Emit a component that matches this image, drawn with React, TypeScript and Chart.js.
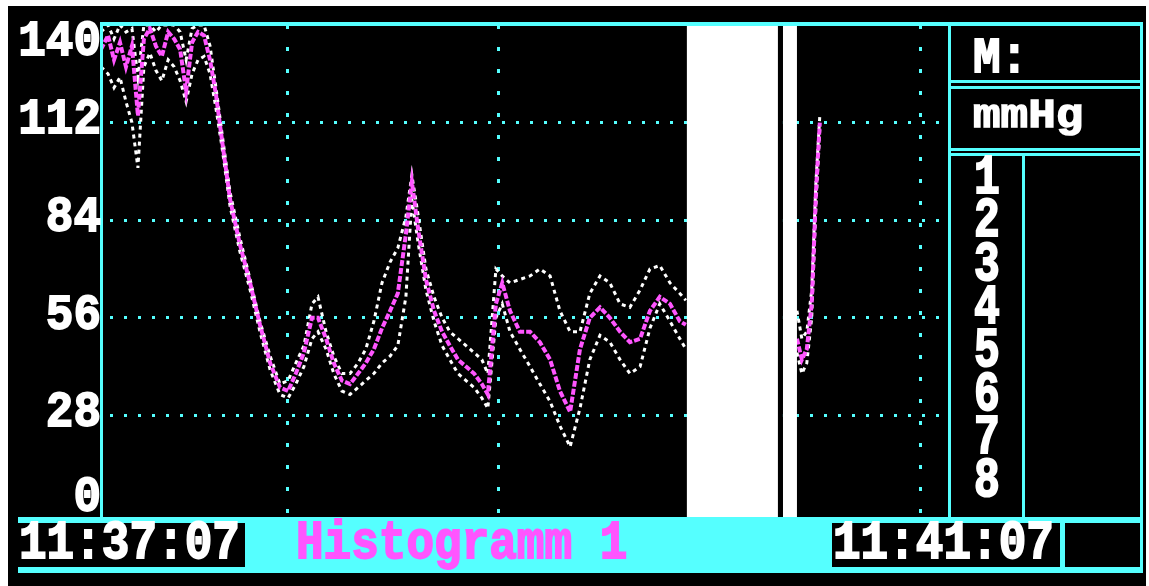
import React, { useEffect, useRef } from 'react';
import { Chart, registerables } from 'chart.js';

Chart.register(...registerables);

const W = 1149;
const H = 586;
const CYAN = '#55ffff';
const MAGENTA = '#ff55ff';
const WHITE = '#ffffff';
const FONT = '"Liberation Mono", "DejaVu Sans Mono", monospace';

// time in seconds after 11:37:07
const timeSec = [
  0, 2.0, 3.7, 5.4, 7.1, 8.8, 10.5, 12.2, 13.9, 15.6,
  17.3, 19.1, 20.8, 22.5, 24.2, 25.9, 27.6, 29.3, 31.0, 32.7,
  34.4, 36.7, 39.5, 42.4, 45.2, 48.1, 50.9, 53.2, 55.4, 57.7,
  60.0, 61.7, 64.0, 66.2, 68.5, 70.8, 73.1, 75.3, 77.6, 79.9,
  82.2, 84.4, 86.7, 88.4, 90.1, 92.4, 94.7, 97.0, 99.2, 101.5,
  103.8, 106.1, 108.3, 110.0,
  112.3, 114.1, 116.3, 119.1, 122.0, 124.8, 127.7, 130.5, 133.4, 136.2,
  139.0, 141.9, 144.7, 147.6, 150.4, 153.3, 156.1, 158.9, 161.8, 164.6, 166.3,
  180,
  197.9, 199.3, 200.7, 202.1, 203.3, 204.4,
];

const meanVals = [
  133, 137, 130, 135, 128, 134, 114, 136, 139, 134,
  131, 138, 136, 133, 121, 135, 138, 137, 130, 120,
  107, 90, 77, 66, 54, 43, 36, 35, 40, 46,
  56, 56, 50, 43, 38, 37, 40, 43, 47, 53,
  58, 63, 80, 95, 82, 67, 58, 52, 48, 44,
  42, 40, 37, 34,
  60, 66, 58, 52, 52, 49, 44, 35, 29, 47,
  56, 59, 56, 52, 49, 50, 58, 62, 60, 55, 54,
  null,
  50, 44, 47, 60, 92, 112,
];

const upperVals = [
  138, 140, 136, 140, 138, 139, 125, 140, 140, 138,
  140, 140, 140, 138, 130, 139, 140, 140, 134, 122,
  109, 92, 79, 67, 55, 45, 37, 38, 43, 48,
  60, 62, 52, 45, 40, 40, 43, 47, 55, 66,
  72, 76, 85, 97, 86, 70, 62, 56, 52, 50,
  48, 46, 44, 40,
  70, 68, 66, 67, 68, 70, 68, 58, 52, 52,
  63, 68, 66, 60, 59, 64, 70, 71, 66, 63, 61,
  null,
  58, 50, 52, 64, 95, 114,
];

const lowerVals = [
  128, 126, 122, 125, 118, 112, 99, 128, 132, 127,
  124, 130, 128, 124, 118, 126, 130, 131, 126, 116,
  105, 88, 75, 64, 52, 41, 34, 33, 37, 42,
  50, 52, 47, 40, 35, 34, 36, 38, 40, 43,
  45, 48, 62, 90, 78, 64, 55, 48, 44, 40,
  38, 36, 33, 30,
  56, 60, 52, 47, 42, 37, 32, 25, 19, 30,
  44, 51, 49, 44, 40, 42, 53, 60, 55, 50, 47,
  null,
  46, 40, 43, 56, 88, 110,
];

const yMin = 0;
const yMax = 140;
const yStep = 28;
const xMax = 240;
const xGridSec = [53, 113, 173, 233]; // full minutes 11:38 .. 11:41
const cursorBand = [166.6, 192.5, 193.9, 197.9]; // white / black line / white
const startLabel = '11:37:07';
const endLabel = '11:41:07';
const titleLabel = 'Histogramm 1';
const headerLabel = 'M:';
const unitLabel = 'mmHg';
const channelLabels = ['1', '2', '3', '4', '5', '6', '7', '8'];

function drawText(
  ctx: CanvasRenderingContext2D,
  text: string,
  x: number,
  y: number,
  size: number,
  color: string,
  align: CanvasTextAlign,
  sy: number
) {
  ctx.save();
  ctx.translate(x, y);
  ctx.scale(1, sy);
  ctx.font = `bold ${size}px ${FONT}`;
  ctx.fillStyle = color;
  ctx.strokeStyle = color;
  ctx.lineWidth = 1.6;
  ctx.lineJoin = 'miter';
  ctx.textAlign = align;
  ctx.textBaseline = 'middle';
  ctx.fillText(text, 0, 0);
  ctx.strokeText(text, 0, 0);
  ctx.restore();
}

const screenPlugin = {
  id: 'screen',
  beforeDraw(chart: any) {
    const ctx = chart.ctx as CanvasRenderingContext2D;
    ctx.save();
    ctx.fillStyle = WHITE;
    ctx.fillRect(0, 0, W, H);
    ctx.fillStyle = '#000';
    ctx.fillRect(8, 6, 1138, 580);
    ctx.restore();
  },
  afterDatasetsDraw(chart: any) {
    const ctx = chart.ctx as CanvasRenderingContext2D;
    const xs = chart.scales.x;
    const top = chart.chartArea.top + 1;
    const bottom = 517;
    const p = cursorBand.map((v) => xs.getPixelForValue(v));
    ctx.save();
    ctx.fillStyle = WHITE;
    ctx.fillRect(p[0], top, p[1] - p[0], bottom - top);
    ctx.fillRect(p[2], top, p[3] - p[2], bottom - top);
    ctx.fillStyle = '#000';
    ctx.fillRect(p[1], top, p[2] - p[1], bottom - top);
    ctx.restore();
  },
  afterDraw(chart: any) {
    const ctx = chart.ctx as CanvasRenderingContext2D;
    const ys = chart.scales.y;
    const { top, bottom } = chart.chartArea;
    ctx.save();
    ctx.fillStyle = CYAN;
    // frame
    ctx.fillRect(100, 22, 1043, 4);
    ctx.fillRect(100, 22, 3, 495);
    ctx.fillRect(948, 22, 3, 495);
    ctx.fillRect(1140, 22, 3, 551);
    // right panel
    ctx.fillRect(948, 80, 195, 3);
    ctx.fillRect(948, 86, 195, 3);
    ctx.fillRect(948, 148, 195, 3);
    ctx.fillRect(948, 153, 195, 3);
    ctx.fillRect(1022, 153, 3, 364);
    // bottom bar
    ctx.fillRect(18, 517, 1125, 56);
    ctx.fillStyle = '#000';
    ctx.fillRect(18, 523, 227, 44);
    ctx.fillRect(832, 523, 228, 44);
    ctx.fillRect(1065, 523, 75, 44);
    ctx.restore();

    // y tick labels (clamped inside the plot height)
    ys.ticks.forEach((t: any, i: number) => {
      const py = ys.getPixelForTick(i);
      const cy = Math.min(Math.max(py - 2, top + 17), bottom - 15);
      drawText(ctx, String(t.value), 101, cy, 46, WHITE, 'right', 1.1);
    });

    drawText(ctx, startLabel, 19, 545, 46, WHITE, 'left', 1.15);
    drawText(ctx, endLabel, 833, 545, 46, WHITE, 'left', 1.15);
    drawText(ctx, titleLabel, 296, 545, 46, MAGENTA, 'left', 1.15);
    drawText(ctx, headerLabel, 973, 59, 46, WHITE, 'left', 1.1);
    drawText(ctx, unitLabel, 973, 117, 46, WHITE, 'left', 0.9);
    channelLabels.forEach((c, i) => {
      drawText(ctx, c, 974, 179 + i * 43.3, 43, WHITE, 'left', 1.3);
    });
  },
};

const toPoints = (vals: (number | null)[]) =>
  timeSec.map((t, i) => ({ x: t, y: vals[i] }));

export default function App() {
  const ref = useRef<HTMLCanvasElement | null>(null);

  useEffect(() => {
    document.body.style.margin = '0';
    const canvas = ref.current;
    if (!canvas) return;
    const chart = new Chart(canvas, {
      type: 'line',
      data: {
        datasets: [
          {
            label: 'Mittel',
            data: toPoints(meanVals) as any,
            borderColor: MAGENTA,
            borderWidth: 4,
            borderDash: [6, 2],
            pointRadius: 0,
            tension: 0,
            spanGaps: false,
            order: 0,
          },
          {
            label: 'Max',
            data: toPoints(upperVals) as any,
            borderColor: WHITE,
            borderWidth: 3,
            borderDash: [4, 4],
            pointRadius: 0,
            tension: 0,
            spanGaps: false,
            order: 1,
          },
          {
            label: 'Min',
            data: toPoints(lowerVals) as any,
            borderColor: WHITE,
            borderWidth: 3,
            borderDash: [4, 4],
            pointRadius: 0,
            tension: 0,
            spanGaps: false,
            order: 1,
          },
        ],
      },
      options: {
        responsive: false,
        animation: false,
        events: [],
        layout: { padding: { left: 101, top: 25, right: W - 945, bottom: H - 513 } },
        plugins: {
          legend: { display: false },
          tooltip: { enabled: false },
          title: { display: false },
        },
        scales: {
          x: {
            type: 'linear',
            min: 0,
            max: xMax,
            afterBuildTicks: (s: any) => {
              s.ticks = xGridSec.map((v) => ({ value: v }));
            },
            ticks: { display: false },
            grid: { color: CYAN, lineWidth: 3, drawTicks: false },
            border: { display: false, dash: [4, 18], dashOffset: 0 },
          },
          y: {
            type: 'linear',
            min: yMin,
            max: yMax,
            ticks: { display: false, stepSize: yStep },
            grid: {
              color: (c: any) =>
                c.tick && (c.tick.value === yMin || c.tick.value === yMax) ? 'rgba(0,0,0,0)' : CYAN,
              lineWidth: 3,
              drawTicks: false,
            },
            border: { display: false, dash: [3, 11], dashOffset: 5 },
          },
        },
      },
      plugins: [screenPlugin],
    });
    return () => chart.destroy();
  }, []);

  return <canvas ref={ref} width={W} height={H} style={{ display: 'block' }} />;
}
